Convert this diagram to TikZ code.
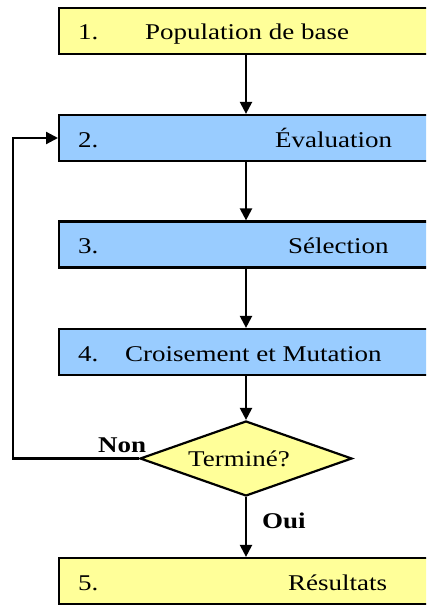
\documentclass[tikz,border=0pt]{standalone}
\usepackage{fontspec}
\setmainfont[FakeStretch=1.2]{Liberation Serif}
\usetikzlibrary{arrows.meta,shapes.geometric}
\definecolor{ylw}{HTML}{FFFF99}
\definecolor{blu}{HTML}{99CCFF}
\begin{document}
\begin{tikzpicture}[x=1pt,y=-1pt,
  box/.style={draw=black,line width=2.2pt,minimum width=400pt,minimum height=46pt,inner sep=0pt,anchor=west},
  ybox/.style={box,fill=ylw},
  bbox/.style={box,fill=blu},
  dec/.style={draw=black,line width=2.2pt,fill=ylw,shape=diamond,minimum width=212pt,minimum height=75pt,inner sep=0pt},
  txt/.style={anchor=base west,inner sep=0pt,font=\fontsize{22.5}{26}\selectfont},
  lbl/.style={txt,font=\fontsize{22.5}{26}\selectfont\bfseries},
  arr/.style={line width=2.2pt,-{Triangle[length=12pt,width=12pt]}}]
\useasboundingbox (0,0) rectangle (426,607);
\clip (0,0) rectangle (426,607);
\fill[white] (0,0) rectangle (426,607);
\node[ybox] (b1) at (58,31) {};
\node[bbox] (b2) at (58,138) {};
\node[bbox] (b3) at (58,244.5) {};
\node[bbox] (b4) at (58,352) {};
\node[dec] (d) at (246,458.5) {};
\node[ybox] (b5) at (58,581) {};
\node[txt] (t1n) at (78,40) {1.};
\node[txt] (t1) at (145,40) {Population de base};
\node[txt] (t2n) at (78,147) {2.};
\node[txt] (t2) at (275,147) {Évaluation};
\node[txt] (t3n) at (78,253) {3.};
\node[txt] (t3) at (288,253) {Sélection};
\node[txt] (t4n) at (78,361) {4.};
\node[txt] (t4) at (125,361) {Croisement et Mutation};
\node[txt] (td) at (188,466) {Terminé?};
\node[txt] (t5n) at (78,590) {5.};
\node[txt] (t5) at (288,590) {Résultats};
\node[lbl] (non) at (98,452) {Non};
\node[lbl] (oui) at (262,528) {Oui};
\coordinate (lp) at (13,0);
\draw[arr] (b1.south -| d.north) -- (b2.north -| d.north);
\draw[arr] (b2.south -| d.north) -- (b3.north -| d.north);
\draw[arr] (b3.south -| d.north) -- (b4.north -| d.north);
\draw[arr] (b4.south -| d.north) -- (d.north);
\draw[arr] (d.south) -- (b5.north -| d.south);
\draw[arr] (d.west) -- (d.west -| lp) -- (b2.west -| lp) -- (b2.west);
\end{tikzpicture}
\end{document}
